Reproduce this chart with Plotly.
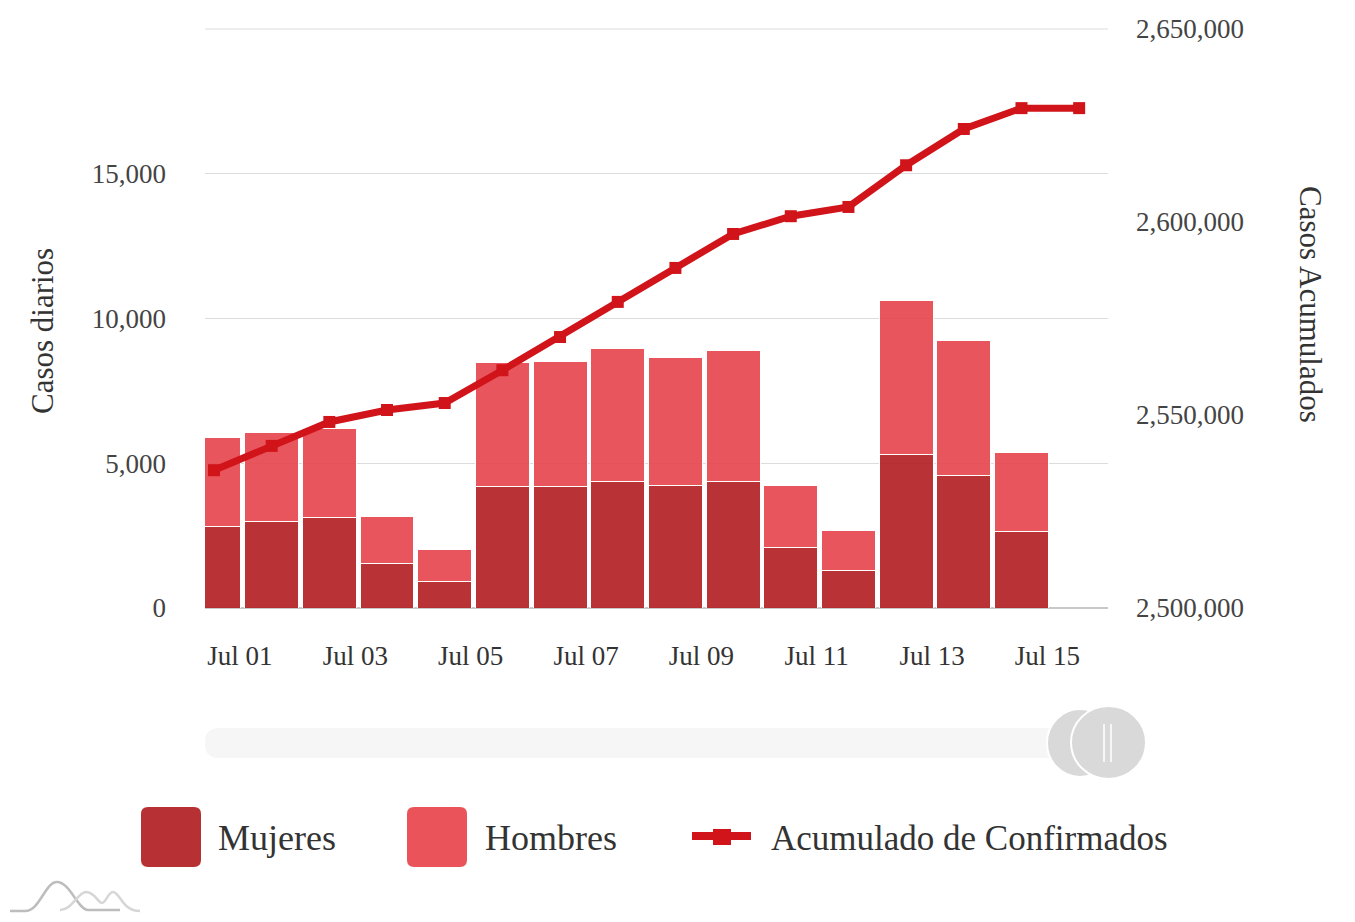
import plotly.graph_objects as go

# ---------------- data ----------------
dates = ["Jul 01", "Jul 02", "Jul 03", "Jul 04", "Jul 05", "Jul 06", "Jul 07", "Jul 08",
         "Jul 09", "Jul 10", "Jul 11", "Jul 12", "Jul 13", "Jul 14", "Jul 15", "Jul 16"]
mujeres = [2830, 3000, 3140, 1550, 930, 4210, 4210, 4380,
           4240, 4380, 2100, 1280, 5310, 4590, 2650, 0]
hombres = [3070, 3070, 3070, 1620, 1100, 4270, 4310, 4590,
           4410, 4520, 2140, 1410, 5310, 4650, 2730, 0]
acumulado = [2535700, 2542000, 2548200, 2551300, 2553100, 2561600, 2570200, 2579300,
             2588100, 2596900, 2601500, 2603900, 2614700, 2624100, 2629500, 2629500]
label_dates = dates[::2]

# ---------------- style ----------------
FONT = "Liberation Serif"
C_MUJ = "rgba(176,28,32,0.9)"
C_HOM = "rgba(231,66,74,0.9)"
C_LINE = "#D0141A"
TXT = "#333333"

W, H = 1355, 922
OFF = 8  # page body margin
L, R, T, B = 205, 1108, 29, 608


def px(x):
    return (x - L) / (R - L)


def py(y):
    return (B - y) / (B - T)


xs = list(range(len(dates)))

fig = go.Figure()
fig.add_trace(go.Bar(x=xs, y=mujeres, name="Mujeres", marker=dict(color=C_MUJ, line=dict(color="white", width=1)),
                     showlegend=False))
fig.add_trace(go.Bar(x=xs, y=hombres, name="Hombres", marker=dict(color=C_HOM, line=dict(color="white", width=1)),
                     showlegend=False))
fig.add_trace(go.Scatter(x=xs, y=acumulado, name="Acumulado de Confirmados", yaxis="y2",
                         mode="lines+markers", line=dict(color=C_LINE, width=7),
                         marker=dict(symbol="square", size=12, color=C_LINE), showlegend=False))

fig.update_layout(
    width=W - 2 * OFF, height=H - 2 * OFF,
    margin=dict(l=L - OFF, r=(W - OFF) - R, t=T - OFF, b=(H - OFF) - B, autoexpand=False),
    paper_bgcolor="white", plot_bgcolor="white",
    barmode="stack", bargap=0.065,
    font=dict(family=FONT, color=TXT, size=26),
    xaxis=dict(range=[-0.156, 15.5], tickvals=[i + 0.45 for i in range(0, len(dates), 2)],
               ticktext=label_dates, showgrid=False, zeroline=False, showline=False, automargin=False,
               ticks="", ticklabelstandoff=29, tickfont=dict(size=27, color="#333")),
    yaxis=dict(range=[0, 20000], tickvals=[0, 5000, 10000, 15000], tickformat=",", automargin=False,
               showgrid=True, gridcolor="#dcdcdc", gridwidth=1, zeroline=True, zerolinecolor="#c8c8c8",
               showline=False, ticks="", ticklabelstandoff=38, tickfont=dict(size=27, color="#444")),
    yaxis2=dict(range=[2500000, 2650000], tickvals=[2500000, 2550000, 2600000, 2650000], tickformat=",",
                overlaying="y", side="right", showgrid=False, zeroline=False, showline=False, automargin=False,
                ticks="", ticklabelstandoff=27, tickfont=dict(size=27, color="#444")),
)

# extra top gridline at 20000
fig.add_shape(type="line", xref="paper", yref="paper", x0=0, x1=1, y0=1, y1=1,
              line=dict(color="#dcdcdc", width=1), layer="below")

annotations = [
    dict(text="Casos diarios", x=px(42), y=py(331), textangle=-90, font=dict(size=31, color=TXT)),
    dict(text="Casos Acumulados", x=px(1310), y=py(304), textangle=90, font=dict(size=31, color=TXT)),
    dict(text="Mujeres", x=px(216), y=py(838), xanchor="left", font=dict(size=36, color=TXT)),
    dict(text="Hombres", x=px(483), y=py(838), xanchor="left", font=dict(size=36, color=TXT)),
    dict(text="Acumulado de Confirmados", x=px(769), y=py(838), xanchor="left", font=dict(size=35, color=TXT)),
]
for a in annotations:
    a.update(xref="paper", yref="paper", showarrow=False, yanchor=a.get("yanchor", "middle"),
             xanchor=a.get("xanchor", "center"))
    fig.add_annotation(**a)


def rrect(x0, y0, x1, y1, r):
    X0, X1 = px(x0), px(x1)
    Y0, Y1 = py(y0), py(y1)
    rx = r / (R - L)
    ry = r / (B - T)
    return (f"M {X0+rx} {Y0} L {X1-rx} {Y0} Q {X1} {Y0} {X1} {Y0-ry} L {X1} {Y1+ry} "
            f"Q {X1} {Y1} {X1-rx} {Y1} L {X0+rx} {Y1} Q {X0} {Y1} {X0} {Y1+ry} L {X0} {Y0-ry} "
            f"Q {X0} {Y0} {X0+rx} {Y0} Z")


# legend markers
fig.add_shape(type="path", xref="paper", yref="paper", path=rrect(141, 807, 201, 867, 7),
              fillcolor="#B73034", line=dict(width=0))
fig.add_shape(type="path", xref="paper", yref="paper", path=rrect(407, 807, 467, 867, 7),
              fillcolor="#EA5359", line=dict(width=0))
fig.add_shape(type="line", xref="paper", yref="paper", x0=px(692), x1=px(751), y0=py(836), y1=py(836),
              line=dict(color=C_LINE, width=8))
fig.add_shape(type="rect", xref="paper", yref="paper", x0=px(713), x1=px(731), y0=py(829), y1=py(845),
              fillcolor=C_LINE, line=dict(width=0))

# scrollbar
fig.add_shape(type="path", xref="paper", yref="paper", path=rrect(205, 728, 1125, 758, 14),
              fillcolor="#f6f6f6", line=dict(width=0))
fig.add_shape(type="circle", xref="paper", yref="paper", x0=px(1047), x1=px(1113), y0=py(709), y1=py(777),
              fillcolor="#d9d9d9", line=dict(color="white", width=2))
fig.add_shape(type="circle", xref="paper", yref="paper", x0=px(1071), x1=px(1146), y0=py(706), y1=py(779),
              fillcolor="#d9d9d9", line=dict(color="white", width=2))
for gx in (1104, 1111):
    fig.add_shape(type="line", xref="paper", yref="paper", x0=px(gx), x1=px(gx), y0=py(724), y1=py(762),
                  line=dict(color="white", width=1.5))

# small logo bottom-left
logo1 = (f"M {px(10)} {py(911)} L {px(25)} {py(911)} C {px(40)} {py(911)} {px(45)} {py(882)} {px(57)} {py(882)} "
         f"C {px(70)} {py(882)} {px(78)} {py(910)} {px(88)} {py(910)} L {px(120)} {py(910)}")
logo2 = (f"M {px(60)} {py(910)} C {px(72)} {py(910)} {px(78)} {py(892)} {px(86)} {py(892)} "
         f"C {px(95)} {py(892)} {px(98)} {py(903)} {px(102)} {py(903)} C {px(106)} {py(903)} {px(108)} {py(892)} {px(113)} {py(892)} "
         f"C {px(120)} {py(892)} {px(122)} {py(911)} {px(140)} {py(911)}")
fig.add_shape(type="path", xref="paper", yref="paper", path=logo1, line=dict(color="#bdbdbd", width=2.5))
fig.add_shape(type="path", xref="paper", yref="paper", path=logo2, line=dict(color="#d6d6d6", width=2.5))

fig.write_html("out.html")
